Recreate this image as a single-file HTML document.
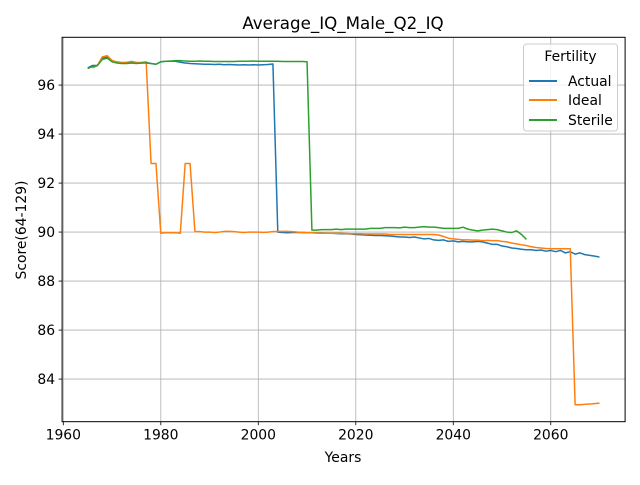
<!DOCTYPE html>
<html><head><meta charset="utf-8"><style>
body{margin:0;background:#fff;}
svg text{font-family:"DejaVu Sans","Liberation Sans",sans-serif;fill:#000;}
</style></head><body>
<svg id="chart" width="640" height="480" viewBox="0 0 640 480">
<rect width="640" height="480" fill="#fff"/>
<text x="343" y="29" font-size="16.7" text-anchor="middle">Average_IQ_Male_Q2_IQ</text>
<g id="grid"></g><g id="ticks"></g><g id="series"></g>
<rect x="62.1" y="37.3" width="563" height="384.4" fill="none" stroke="#000" stroke-width="1"/>
<text x="343" y="462" font-size="13.9" text-anchor="middle">Years</text>
<text transform="translate(26,230) rotate(-90)" font-size="13.9" text-anchor="middle">Score(64-129)</text>
<g>
<rect x="523.5" y="44" width="94" height="87" rx="3" fill="#fff" fill-opacity="0.8" stroke="#ccc"/>
<text x="570.5" y="61" font-size="13.9" text-anchor="middle">Fertility</text>
<line x1="529" y1="81" x2="557" y2="81" stroke="#1f77b4" stroke-width="2"/>
<text x="568" y="86" font-size="13.9">Actual</text>
<line x1="529" y1="100" x2="557" y2="100" stroke="#ff7f0e" stroke-width="2"/>
<text x="568" y="105" font-size="13.9">Ideal</text>
<line x1="529" y1="120" x2="557" y2="120" stroke="#2ca02c" stroke-width="2"/>
<text x="568" y="125" font-size="13.9">Sterile</text>
</g>
</svg>
<script>
const actualStart = 1965;
const actualValues = [96.7,96.8,96.8,97.1,97.15,97.0,96.92,96.9,96.9,96.92,96.9,96.9,96.92,96.88,96.85,96.95,96.97,96.97,96.97,96.93,96.9,96.88,96.87,96.86,96.85,96.85,96.84,96.85,96.83,96.84,96.83,96.82,96.83,96.82,96.83,96.82,96.83,96.84,96.86,90.0,89.98,89.97,89.98,89.98,89.98,89.97,89.97,89.96,89.96,89.95,89.95,89.94,89.93,89.93,89.92,89.9,89.89,89.88,89.87,89.86,89.86,89.85,89.84,89.82,89.8,89.8,89.78,89.8,89.76,89.72,89.74,89.68,89.66,89.68,89.62,89.64,89.6,89.62,89.6,89.6,89.62,89.6,89.55,89.5,89.5,89.43,89.4,89.35,89.33,89.3,89.28,89.28,89.25,89.27,89.22,89.25,89.2,89.25,89.15,89.2,89.1,89.15,89.08,89.05,89.02,88.98];
const idealStart = 1966;
const idealValues = [96.7,96.8,97.15,97.2,97.0,96.95,96.92,96.93,96.97,96.92,96.92,96.95,92.8,92.8,89.95,89.97,89.97,89.97,89.95,92.8,92.8,90.02,90.02,90.0,90.0,89.98,90.0,90.03,90.03,90.02,90.0,89.98,90.0,90.0,90.0,89.99,90.0,90.02,90.03,90.03,90.03,90.02,90.0,89.98,89.97,89.97,89.96,89.95,89.95,89.95,89.95,89.95,89.94,89.93,89.93,89.93,89.92,89.92,89.92,89.92,89.92,89.9,89.9,89.9,89.9,89.9,89.9,89.9,89.9,89.9,89.9,89.88,89.82,89.75,89.72,89.7,89.68,89.68,89.67,89.67,89.65,89.66,89.65,89.65,89.62,89.6,89.55,89.52,89.48,89.45,89.4,89.37,89.35,89.33,89.32,89.32,89.32,89.32,89.32,82.95,82.95,82.97,82.98,83.0,83.02];
const sterileStart = 1965;
const sterileValues = [96.68,96.75,96.8,97.05,97.1,96.95,96.9,96.88,96.88,96.9,96.88,96.9,96.9,96.88,96.85,96.95,96.97,96.98,97.0,97.0,96.98,96.97,96.97,96.98,96.97,96.97,96.96,96.96,96.96,96.96,96.96,96.97,96.97,96.97,96.98,96.97,96.97,96.97,96.97,96.97,96.96,96.96,96.96,96.96,96.96,96.95,90.08,90.08,90.1,90.1,90.1,90.12,90.1,90.12,90.12,90.12,90.12,90.12,90.15,90.15,90.15,90.18,90.18,90.18,90.17,90.2,90.18,90.18,90.2,90.22,90.2,90.2,90.18,90.15,90.15,90.15,90.15,90.2,90.12,90.08,90.05,90.08,90.1,90.12,90.1,90.05,90.0,89.98,90.05,89.9,89.7];
const xTicks = [1960,1980,2000,2020,2040,2060];
const yTicks = [84,86,88,90,92,94,96];

const X0=62.1, X1=625.1, Y0=421.7, Y1=37.3, XMIN=1959.75, XMAX=2075.25, YMIN=82.26, YMAX=97.95;
function xs(v){return X0+(v-XMIN)/(XMAX-XMIN)*(X1-X0);}
function ys(v){return Y0-(v-YMIN)/(YMAX-YMIN)*(Y0-Y1);}
const NS='http://www.w3.org/2000/svg';
const grid=document.getElementById('grid'), ticks=document.getElementById('ticks'), ser=document.getElementById('series');
function mk(tag,attrs,parent){const e=document.createElementNS(NS,tag);for(const k in attrs)e.setAttribute(k,attrs[k]);parent.appendChild(e);return e;}
xTicks.forEach(t=>{const x=xs(t);
 const g=mk('line',{x1:x,x2:x,y1:Y1,y2:Y0,stroke:'#b0b0b0','stroke-width':0.8},grid);
 
 
 mk('line',{x1:x,x2:x,y1:Y0,y2:Y0+3.5,stroke:'#000','stroke-width':0.8},ticks);
 const tx=mk('text',{x:x,y:Y0+18,'font-size':13.9,'text-anchor':'middle'},ticks);tx.textContent=t;
 
 
});
yTicks.forEach(t=>{const y=ys(t);
 const g=mk('line',{x1:X0,x2:X1,y1:y,y2:y,stroke:'#b0b0b0','stroke-width':0.8},grid);
 
 
 mk('line',{x1:X0-3.5,x2:X0,y1:y,y2:y,stroke:'#000','stroke-width':0.8},ticks);
 const tx=mk('text',{x:X0-7,y:y+5,'font-size':13.9,'text-anchor':'end'},ticks);tx.textContent=t;
 
 
});
function line(start,vals,color,name){
 const pts=vals.map((v,i)=>xs(start+i).toFixed(2)+','+ys(v).toFixed(2)).join(' ');
 const p=mk('polyline',{points:pts,fill:'none',stroke:color,'stroke-width':1.5,'stroke-linejoin':'round'},ser);
 
 
}
line(actualStart,actualValues,'#1f77b4','actual-line');
line(idealStart,idealValues,'#ff7f0e','ideal-line');
line(sterileStart,sterileValues,'#2ca02c','sterile-line');
</script>
</body></html>
